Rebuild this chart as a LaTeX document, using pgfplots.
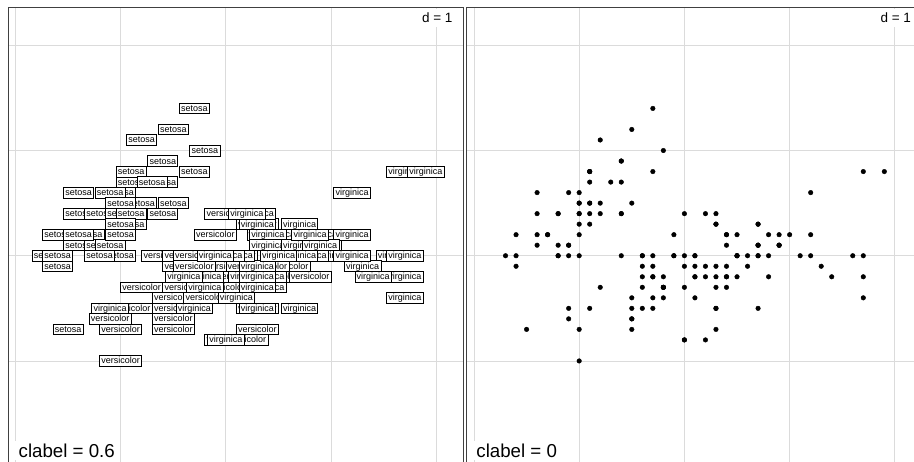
\documentclass[border=0pt]{standalone}
\usepackage{fontspec}
\setmainfont{Liberation Sans}
\usepackage{pgfplots}
\usepackage{pgfplotstable}
\pgfplotsset{compat=1.18}

\pgfplotstableread{
sl sw
5.1 3.5
4.9 3.0
4.7 3.2
4.6 3.1
5.0 3.6
5.4 3.9
4.6 3.4
5.0 3.4
4.4 2.9
4.9 3.1
5.4 3.7
4.8 3.4
4.8 3.0
4.3 3.0
5.8 4.0
5.7 4.4
5.4 3.9
5.1 3.5
5.7 3.8
5.1 3.8
5.4 3.4
5.1 3.7
4.6 3.6
5.1 3.3
4.8 3.4
5.0 3.0
5.0 3.4
5.2 3.5
5.2 3.4
4.7 3.2
4.8 3.1
5.4 3.4
5.2 4.1
5.5 4.2
4.9 3.1
5.0 3.2
5.5 3.5
4.9 3.6
4.4 3.0
5.1 3.4
5.0 3.5
4.5 2.3
4.4 3.2
5.0 3.5
5.1 3.8
4.8 3.0
5.1 3.8
4.6 3.2
5.3 3.7
5.0 3.3
}\setosa

\pgfplotstableread{
sl sw
7.0 3.2
6.4 3.2
6.9 3.1
5.5 2.3
6.5 2.8
5.7 2.8
6.3 3.3
4.9 2.4
6.6 2.9
5.2 2.7
5.0 2.0
5.9 3.0
6.0 2.2
6.1 2.9
5.6 2.9
6.7 3.1
5.6 3.0
5.8 2.7
6.2 2.2
5.6 2.5
5.9 3.2
6.1 2.8
6.3 2.5
6.1 2.8
6.4 2.9
6.6 3.0
6.8 2.8
6.7 3.0
6.0 2.9
5.7 2.6
5.5 2.4
5.5 2.4
5.8 2.7
6.0 2.7
5.4 3.0
6.0 3.4
6.7 3.1
6.3 2.3
5.6 3.0
5.5 2.5
5.5 2.6
6.1 3.0
5.8 2.6
5.0 2.3
5.6 2.7
5.7 3.0
5.7 2.9
6.2 2.9
5.1 2.5
5.7 2.8
}\versicolor

\pgfplotstableread{
sl sw
6.3 3.3
5.8 2.7
7.1 3.0
6.3 2.9
6.5 3.0
7.6 3.0
4.9 2.5
7.3 2.9
6.7 2.5
7.2 3.6
6.5 3.2
6.4 2.7
6.8 3.0
5.7 2.5
5.8 2.8
6.4 3.2
6.5 3.0
7.7 3.8
7.7 2.6
6.0 2.2
6.9 3.2
5.6 2.8
7.7 2.8
6.3 2.7
6.7 3.3
7.2 3.2
6.2 2.8
6.1 3.0
6.4 2.8
7.2 3.0
7.4 2.8
7.9 3.8
6.4 2.8
6.3 2.8
6.1 2.6
7.7 3.0
6.3 3.4
6.4 3.1
6.0 3.0
6.9 3.1
6.7 3.1
6.9 3.1
5.8 2.7
6.8 3.2
6.7 3.3
6.7 3.0
6.3 2.5
6.5 3.0
6.2 3.4
5.9 3.0
}\virginica

\pgfplotsset{
  panel/.style={
    scale only axis, width=455.2bp, height=455.2bp,
    anchor=north west,
    xmin=3.932, xmax=8.258, ymin=1.035, ymax=5.361,
    xtick={4,5,6,7,8}, ytick={2,3,4,5},
    xticklabels={}, yticklabels={},
    major tick length=0pt,
    grid=major,
    grid style={color=black!14, line width=0.9bp},
    axis line style={draw=none},
  },
  lab/.style={
    only marks, mark=*, mark size=0pt,
    mark options={draw=none, fill=none},
    nodes near coords={#1},
    every node near coord/.append style={
      anchor=center, draw=black, fill=white, line width=0.75bp,
      text=black, font=\fontsize{9bp}{10bp}\selectfont,
      inner xsep=1.8bp, inner ysep=2bp,
      text height=6.4bp, text depth=0.4bp},
  },
  dot/.style={only marks, mark=*, mark size=2.3bp,
    mark options={draw=black, fill=black}},
}

\begin{document}
\begin{tikzpicture}
% left panel
\begin{axis}[panel, at={(8.3bp,-7.3bp)}]
\addplot[lab=setosa] table[x=sl, y=sw] {\setosa};
\addplot[lab=versicolor] table[x=sl, y=sw] {\versicolor};
\addplot[lab=virginica] table[x=sl, y=sw] {\virginica};
\end{axis}
% right panel
\begin{axis}[panel, at={(466.8bp,-7.3bp)}]
\addplot[dot] table[x=sl, y=sw] {\setosa};
\addplot[dot] table[x=sl, y=sw] {\versicolor};
\addplot[dot] table[x=sl, y=sw] {\virginica};
\end{axis}
% annotations
\node[anchor=base east, fill=white, inner xsep=4bp, inner ysep=4.3bp,
  font=\fontsize{13.5bp}{14bp}\selectfont] at (456.7bp,-22.7bp) {d = 1};
\node[anchor=base east, fill=white, inner xsep=4bp, inner ysep=4.3bp,
  font=\fontsize{13.5bp}{14bp}\selectfont] at (915.2bp,-22.7bp) {d = 1};
\node[anchor=base west, fill=white, inner xsep=4.5bp, inner ysep=2.5bp,
  font=\fontsize{18.7bp}{20bp}\selectfont] at (14bp,-457.3bp) {clabel = 0.6};
\node[anchor=base west, fill=white, inner xsep=4.5bp, inner ysep=2.5bp,
  font=\fontsize{18.7bp}{20bp}\selectfont] at (471.7bp,-457.3bp) {clabel = 0};
% frames
\draw[black!75, line width=1.2bp] (8.3bp,-7.3bp) rectangle (463.5bp,-463.5bp);
\draw[black!75, line width=1.2bp] (466.8bp,-7.3bp) rectangle (922bp,-463.5bp);
\pgfresetboundingbox
\useasboundingbox (0,0) rectangle (914bp,-462bp);
\end{tikzpicture}
\end{document}
